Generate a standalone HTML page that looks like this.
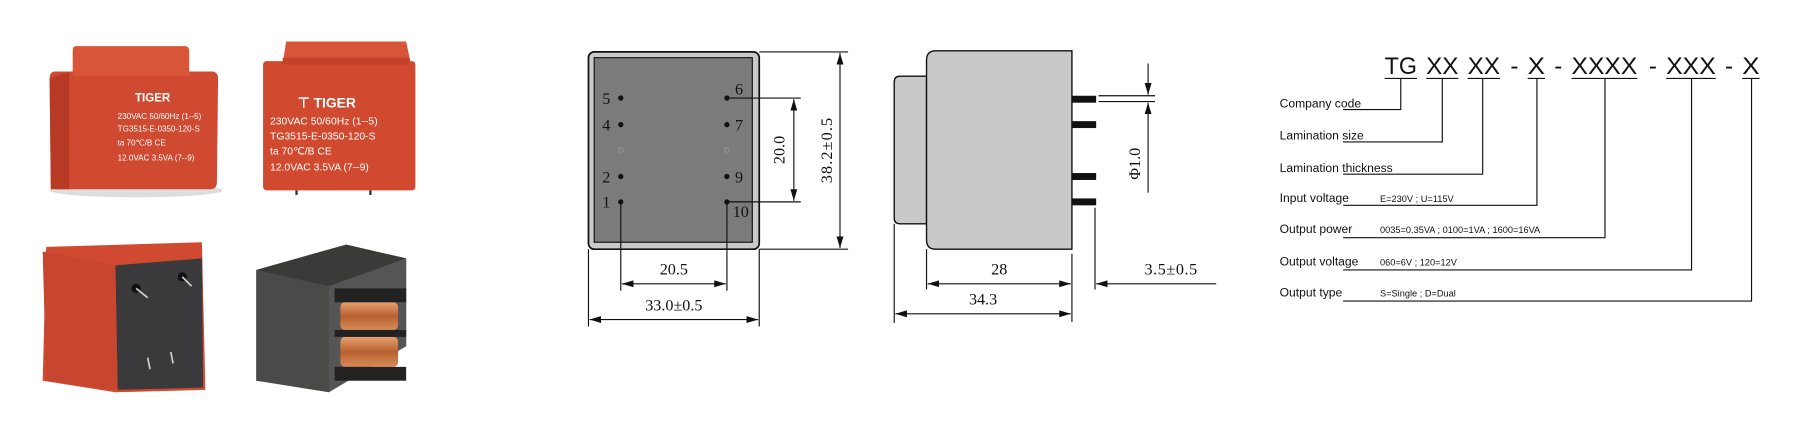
<!DOCTYPE html>
<html><head><meta charset="utf-8"><style>
html,body{margin:0;padding:0;background:#fff;}
svg{display:block;}
.d{font-family:"Liberation Serif",serif;font-size:14px;fill:#111;}
.l{font-family:"Liberation Sans",sans-serif;font-size:10.5px;fill:#111;}
.s{font-family:"Liberation Sans",sans-serif;font-size:8px;fill:#111;}
.w{font-family:"Liberation Sans",sans-serif;fill:#fff;}
</style></head><body>
<svg width="1800" height="428" viewBox="0 0 1560 371" preserveAspectRatio="none" xmlns="http://www.w3.org/2000/svg">
<defs>
<marker id="a" viewBox="0 0 10 6" refX="10" refY="3" markerWidth="10" markerHeight="6" orient="auto-start-reverse" markerUnits="userSpaceOnUse"><path d="M0,0 L10,3 L0,6 z" fill="#111"/></marker>
<linearGradient id="cu" x1="0" y1="0" x2="0" y2="1"><stop offset="0" stop-color="#e8a070"/><stop offset="0.5" stop-color="#b5612f"/><stop offset="1" stop-color="#d88a58"/></linearGradient>
</defs>
<rect width="1560" height="371" fill="#fff"/>

<!-- Photo TL -->
<ellipse cx="118" cy="165" rx="75" ry="6" fill="#ddd"/>
<path d="M48,62 L183,62 Q189,62 189,68 L188,158 Q188,164 182,164 L50,164 Q44,164 44,158 L43,68 Q43,62 48,62z" fill="#cf4a31"/>
<path d="M43,68 L60,62 L60,164 L44,164z" fill="#b83a25"/>
<path d="M66,40 L160,40 Q164,40 164,44 L164,66 L63,66 L63,44 Q63,40 66,40z" fill="#d9553a"/>
<text x="117" y="88" class="w" font-size="10" font-weight="bold">TIGER</text>
<text x="102" y="103" class="w" font-size="7">230VAC 50/60Hz (1--5)</text>
<text x="102" y="114" class="w" font-size="7">TG3515-E-0350-120-S</text>
<text x="102" y="126" class="w" font-size="7">ta 70℃/B   CE</text>
<text x="102" y="139" class="w" font-size="7">12.0VAC 3.5VA (7--9)</text>
<!-- Photo TR -->
<rect x="228" y="53" width="132" height="112" rx="3" fill="#d14a30"/>
<path d="M248,36 L352,36 L356,55 L245,55z" fill="#d9553a"/>
<rect x="245" y="50" width="110" height="6" fill="#c34029"/>
<text x="258" y="93" class="w" font-size="12" font-weight="bold">⊤ TIGER</text>
<text x="234" y="108" class="w" font-size="9">230VAC 50/60Hz (1--5)</text>
<text x="234" y="121" class="w" font-size="9">TG3515-E-0350-120-S</text>
<text x="234" y="134" class="w" font-size="9">ta 70℃/B       CE</text>
<text x="234" y="148" class="w" font-size="9">12.0VAC  3.5VA (7--9)</text>
<rect x="256" y="165" width="2" height="4" fill="#333"/><rect x="320" y="165" width="2" height="4" fill="#333"/>
<!-- Photo BL -->
<path d="M40,214 L175,210 L178,338 L100,340 L37,330z" fill="#cf4a31"/>
<path d="M100,230 L175,224 L176,336 L102,338z" fill="#3a3a3c"/>
<path d="M37,218 L100,230 L102,338 L40,330z" fill="#c84530"/>
<circle cx="118" cy="250" r="4" fill="#111"/><circle cx="158" cy="240" r="4" fill="#111"/>
<line x1="118" y1="250" x2="128" y2="258" stroke="#ccc" stroke-width="1.5"/>
<line x1="158" y1="240" x2="166" y2="248" stroke="#ccc" stroke-width="1.5"/>
<line x1="128" y1="310" x2="130" y2="320" stroke="#ccc" stroke-width="1.5"/>
<line x1="148" y1="305" x2="150" y2="315" stroke="#ccc" stroke-width="1.5"/>
<!-- Photo BR -->
<path d="M222,234 L300,212 L352,224 L352,300 L285,340 L222,330z" fill="#4a4a48"/>
<path d="M222,234 L300,212 L352,224 L285,248z" fill="#3a3a38"/>
<path d="M285,248 L352,224 L352,300 L285,340z" fill="#555"/>
<rect x="295" y="262" width="50" height="24" rx="4" fill="url(#cu)"/>
<rect x="295" y="292" width="50" height="26" rx="4" fill="url(#cu)"/>
<rect x="290" y="250" width="62" height="12" fill="#222"/>
<rect x="290" y="286" width="62" height="6" fill="#222"/>
<rect x="290" y="318" width="62" height="12" fill="#222"/>

<!-- Drawing 1 -->
<rect x="510" y="45" width="148" height="171" rx="5" fill="#c9c9c9" stroke="#111" stroke-width="1.5"/>
<rect x="515" y="50" width="137" height="160" fill="#7b7b7b" stroke="#111" stroke-width="1"/>
<g fill="#111">
<circle cx="538" cy="85" r="2.3"/><circle cx="538" cy="108" r="2.3"/><circle cx="538" cy="153" r="2.3"/><circle cx="538" cy="175" r="2.3"/>
<circle cx="630" cy="85" r="2.3"/><circle cx="630" cy="108" r="2.3"/><circle cx="630" cy="153" r="2.3"/><circle cx="630" cy="175" r="2.3"/>
</g>
<circle cx="538" cy="130" r="2" fill="none" stroke="#999" stroke-width="0.7"/>
<circle cx="630" cy="130" r="2" fill="none" stroke="#999" stroke-width="0.7"/>
<g class="d" font-size="12">
<text x="522" y="90">5</text><text x="522" y="113">4</text><text x="522" y="158">2</text><text x="522" y="180">1</text>
<text x="637" y="82">6</text><text x="637" y="113">7</text><text x="637" y="158">9</text><text x="635" y="188">10</text>
</g>
<g stroke="#111" stroke-width="1" fill="none">
<line x1="630" y1="85" x2="694" y2="85"/><line x1="630" y1="175" x2="694" y2="175"/>
<line x1="688" y1="86" x2="688" y2="174" marker-start="url(#a)" marker-end="url(#a)"/>
<line x1="658" y1="45" x2="735" y2="45"/><line x1="658" y1="216" x2="735" y2="216"/>
<line x1="728" y1="46" x2="728" y2="215" marker-start="url(#a)" marker-end="url(#a)"/>
<line x1="538" y1="175" x2="538" y2="252"/><line x1="630" y1="175" x2="630" y2="252"/>
<line x1="539" y1="246" x2="629" y2="246" marker-start="url(#a)" marker-end="url(#a)"/>
<line x1="510" y1="216" x2="510" y2="283"/><line x1="658" y1="216" x2="658" y2="283"/>
<line x1="511" y1="277" x2="657" y2="277" marker-start="url(#a)" marker-end="url(#a)"/>
</g>
<text class="d" transform="translate(680,130) rotate(-90)" text-anchor="middle">20.0</text>
<text class="d" transform="translate(721,130) rotate(-90)" text-anchor="middle" letter-spacing="1">38.2±0.5</text>
<text class="d" x="584" y="238" text-anchor="middle">20.5</text>
<text class="d" x="584" y="269" text-anchor="middle">33.0±0.5</text>

<!-- Drawing 2 -->
<path d="M803,66 L780,66 Q775,66 775,71 L775,189 Q775,194 780,194 L803,194z" fill="#c9c9c9" stroke="#111" stroke-width="1.2"/>
<path d="M811,44 L929,44 L929,216 L811,216 Q803,216 803,208 L803,52 Q803,44 811,44z" fill="#c9c9c9" stroke="#111" stroke-width="1.2"/>
<g fill="#111">
<rect x="929" y="83" width="21" height="6"/><rect x="929" y="105" width="21" height="6"/>
<rect x="929" y="150" width="21" height="6"/><rect x="929" y="172" width="21" height="6"/>
</g>
<g stroke="#111" stroke-width="1" fill="none">
<line x1="952" y1="83" x2="1001" y2="83"/><line x1="952" y1="88" x2="1001" y2="88"/>
<line x1="995" y1="55" x2="995" y2="82" marker-end="url(#a)"/>
<line x1="995" y1="167" x2="995" y2="89" marker-end="url(#a)"/>
<line x1="949" y1="180" x2="949" y2="251"/>
<line x1="929" y1="220" x2="929" y2="279"/>
<line x1="803" y1="216" x2="803" y2="251"/>
<line x1="775" y1="194" x2="775" y2="280"/>
<line x1="804" y1="246" x2="928" y2="246" marker-start="url(#a)" marker-end="url(#a)"/>
<line x1="1054" y1="246" x2="950" y2="246" marker-end="url(#a)"/>
<line x1="776" y1="272" x2="928" y2="272" marker-start="url(#a)" marker-end="url(#a)"/>
</g>
<text class="d" transform="translate(988,142) rotate(-90)" text-anchor="middle">Φ1.0</text>
<text class="d" x="866" y="238" text-anchor="middle">28</text>
<text class="d" x="1015" y="238" text-anchor="middle" letter-spacing="0.5">3.5±0.5</text>
<text class="d" x="852" y="264" text-anchor="middle">34.3</text>

<!-- Part number section -->
<g font-family="'Liberation Sans',sans-serif" font-size="21" fill="#111">
<text x="1200" y="64" textLength="28" lengthAdjust="spacingAndGlyphs">TG</text>
<text x="1236" y="64" textLength="28" lengthAdjust="spacingAndGlyphs">XX</text>
<text x="1272" y="64" textLength="28" lengthAdjust="spacingAndGlyphs">XX</text>
<text x="1309" y="64">-</text>
<text x="1324" y="64" textLength="15" lengthAdjust="spacingAndGlyphs">X</text>
<text x="1347" y="64">-</text>
<text x="1362" y="64" textLength="57" lengthAdjust="spacingAndGlyphs">XXXX</text>
<text x="1429" y="64">-</text>
<text x="1444" y="64" textLength="43" lengthAdjust="spacingAndGlyphs">XXX</text>
<text x="1495" y="64">-</text>
<text x="1510" y="64" textLength="15" lengthAdjust="spacingAndGlyphs">X</text>
</g>
<g stroke="#111" stroke-width="1" fill="none">
<line x1="1200" y1="68" x2="1228" y2="68"/><line x1="1236" y1="68" x2="1264" y2="68"/>
<line x1="1272" y1="68" x2="1300" y2="68"/><line x1="1324" y1="68" x2="1339" y2="68"/>
<line x1="1362" y1="68" x2="1419" y2="68"/><line x1="1444" y1="68" x2="1487" y2="68"/>
<line x1="1510" y1="68" x2="1525" y2="68"/>
<polyline points="1214,68 1214,95 1164,95"/>
<polyline points="1250,68 1250,123 1164,123"/>
<polyline points="1285,68 1285,151 1164,151"/>
<polyline points="1332,68 1332,178 1164,178"/>
<polyline points="1391,68 1391,206 1164,206"/>
<polyline points="1466,68 1466,234 1164,234"/>
<polyline points="1518,68 1518,261 1164,261"/>
</g>
<text class="l" x="1109" y="93">Company code</text>
<text class="l" x="1109" y="121">Lamination size</text>
<text class="l" x="1109" y="149">Lamination thickness</text>
<text class="l" x="1109" y="175">Input voltage</text>
<text class="l" x="1109" y="202">Output power</text>
<text class="l" x="1109" y="230">Output voltage</text>
<text class="l" x="1109" y="257">Output type</text>
<text class="s" x="1196" y="175">E=230V ; U=115V</text>
<text class="s" x="1196" y="202">0035=0.35VA ; 0100=1VA ; 1600=16VA</text>
<text class="s" x="1196" y="230">060=6V ; 120=12V</text>
<text class="s" x="1196" y="257">S=Single ; D=Dual</text>
</svg>
</body></html>
